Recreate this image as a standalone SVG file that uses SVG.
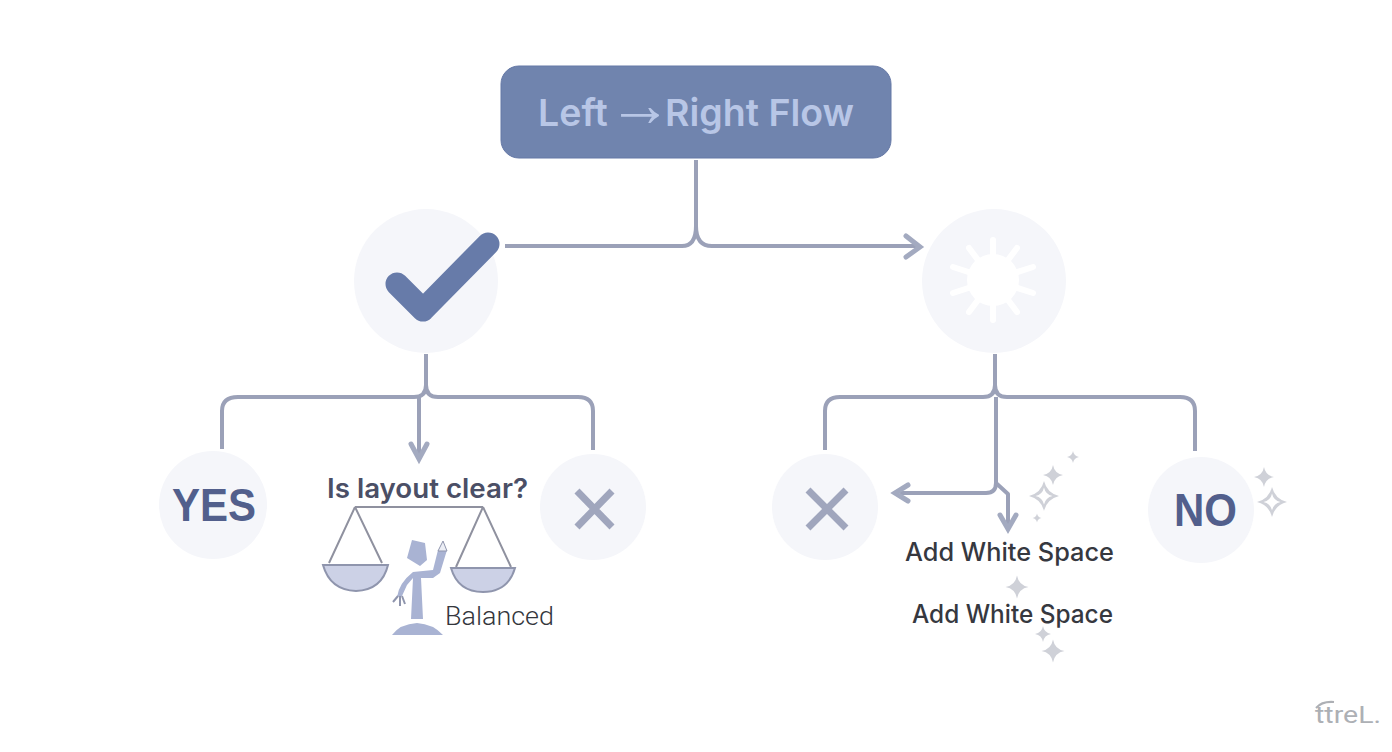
<svg xmlns="http://www.w3.org/2000/svg" width="1392" height="752" viewBox="0 0 1392 752">
<defs>
<path id="sp" d="M0-10Q1.5-1.5 10 0Q1.500 1.500 0 10Q-1.500 1.500-10 0Q-1.500-1.500 0-10Z"/>
<path id="spo" d="M0-15Q3-3 15 0Q3 3 0 15Q-3 3-15 0Q-3-3 0-15ZM0-8.500Q-1.500-1.500-8.500 0Q-1.500 1.500 0 8.500Q1.500 1.500 8.500 0Q1.500-1.500 0-8.500Z" fill-rule="evenodd"/>
</defs>
<style>
text{font-family:Inter,"Liberation Sans",sans-serif}
.c{fill:#f5f6fa}
.l{fill:none;stroke:#9ba1b8;stroke-width:4;stroke-linecap:butt;stroke-linejoin:round}
.h{fill:none;stroke:#a3aac0;stroke-width:5;stroke-linecap:round;stroke-linejoin:miter}
.x{fill:none;stroke:#a0a6bd;stroke-width:7}
.d{fill:#4b4f66;font-weight:600}
.big{fill:#525f8c;font-weight:700;font-size:47px;font-family:"Liberation Sans",Arial,sans-serif}
.t{fill:#36383f;font-weight:500;font-size:25px}
.s{fill:#cfd1d8}
.pan{fill:#ccd1e6;stroke:#8f95ad;stroke-width:2}
.w{fill:none;stroke:#8f919f;stroke-width:2}
.f{fill:#a9b3d3}
</style>
<rect width="1392" height="752" fill="#fff"/>
<g id="connectors">
<path class="l" d="M696 160V226Q696 246 682 246H505"/>
<path class="l" d="M696 226Q696 246 712 246H917"/>
<path class="h" d="M906 236L920 247L906 257"/>
<path class="l" d="M426 354V385Q426 397 414 397H238Q222 397 222 411V449"/>
<path class="l" d="M426 385Q426 397 438 397H578Q593 397 593 411V450"/>
<path class="l" d="M419 397V455"/>
<path class="h" d="M411 444L419 459L427 444"/>
<path class="l" d="M995 354V385Q995 397 983 397H840Q825 397 825 411V450"/>
<path class="l" d="M995 385Q995 397 1007 397H1180Q1195 397 1195 411V451"/>
<path class="l" d="M996 397V483Q996 493 986 493H900"/>
<path class="h" d="M908 485L895 493L908 501"/>
<path class="l" d="M996 483L1008 494V524"/>
<path class="h" d="M1000 515L1008 529L1016 515"/>
</g>
<g id="start"><rect x="501" y="66" width="390" height="92" rx="18" fill="#7084ae" stroke="#6578a6" stroke-width="1"/>
<text y="126" font-size="37.500" font-weight="600" fill="#b8c6e6"><tspan x="538">Left</tspan><tspan x="608" font-size="64" style="font-family:'Liberation Sans',Arial,sans-serif" font-weight="400">→</tspan><tspan x="665">Right Flow</tspan></text></g>
<g id="check"><circle class="c" cx="426" cy="281" r="72"/>
<path d="M397 284L423 310L488 244" fill="none" stroke="#677ba9" stroke-width="23" stroke-linecap="round" stroke-linejoin="round"/></g>
<g id="sun"><circle class="c" cx="994" cy="281" r="72"/>
<circle cx="993" cy="280" r="26" fill="#fff"/>
<path d="M993 240V320M1017 248L969 312M1033 267L953 293M1033 293L953 267M1017 312L969 248" stroke="#fff" stroke-width="6" stroke-linecap="round"/></g>
<g id="yes"><circle class="c" cx="213" cy="505" r="54"/><text class="big" x="172" y="521" textLength="84" lengthAdjust="spacingAndGlyphs">YES</text></g>
<g id="x1"><circle class="c" cx="593" cy="507" r="53"/><path class="x" d="M577 491L612 527M612 491L577 527"/></g>
<g id="x2"><circle class="c" cx="825" cy="507" r="53"/><path class="x" d="M808 490L846 528M846 490L808 528"/></g>
<g id="no"><circle class="c" cx="1201" cy="510" r="53"/><text class="big" x="1174" y="526" textLength="63" lengthAdjust="spacingAndGlyphs">NO</text></g>
<g id="decision"><text class="d" x="327" y="498" font-size="27" textLength="201" lengthAdjust="spacingAndGlyphs">Is layout clear?</text></g>
<g id="scale">
<path class="w" d="M355 507H483M355 507L329 563M355 507L382 563M483 507L456 567M483 507L511 567"/>
<path class="pan" d="M323 565H388Q382 590 356 591Q330 590 323 565Z"/>
<path class="pan" d="M451 568H515Q508 592 483 592Q458 592 451 568Z"/>
<path class="f" d="M412 540L425 543L427 560L420 566L407 558ZM413 578H421L423 619H411ZM397 597Q399 583 413 572L433 570L438 550H447L440 573L433 578H413L407 585L402 596ZM392 635Q400 624 417 623Q433 624 443 635Z"/>
<path d="M438 551L443 541L447 551Z" fill="#eceef5" stroke="#8f95ad" stroke-width="1"/>
<path d="M398 596L393 602M400 596V606M402 596L405 604" stroke="#8f95ad" stroke-width="2"/>
<text x="445" y="625" font-size="26" font-weight="300" fill="#34363c" textLength="109" lengthAdjust="spacingAndGlyphs" style="font-family:Roboto,sans-serif">Balanced</text>
</g>
<g id="space">
<text class="t" x="905" y="561" textLength="209" lengthAdjust="spacingAndGlyphs">Add White Space</text>
<text class="t" x="912" y="623" textLength="201" lengthAdjust="spacingAndGlyphs">Add White Space</text>
</g>
<g id="sparkles" class="s">
<use href="#sp" transform="translate(1073 457) scale(.6)"/>
<use href="#sp" transform="translate(1053 475) scale(1)"/>
<use href="#spo" transform="translate(1044 496)"/>
<use href="#sp" transform="translate(1037 518) scale(.45)"/>
<use href="#sp" transform="translate(1264 477) scale(1)"/>
<use href="#spo" transform="translate(1272 502)"/>
<use href="#sp" transform="translate(1017 587) scale(1.150)"/>
<use href="#sp" transform="translate(1043 634) scale(.8)"/>
<use href="#sp" transform="translate(1053 651) scale(1.150)"/>
</g>
<g id="mark"><text x="1315" y="723" font-size="24" fill="#adb0b5" textLength="66" lengthAdjust="spacingAndGlyphs" style="font-family:Roboto,sans-serif">ttreL.</text>
<path d="M1316 708Q1322 701 1334 702" fill="none" stroke="#adb0b5" stroke-width="2"/></g>
</svg>
